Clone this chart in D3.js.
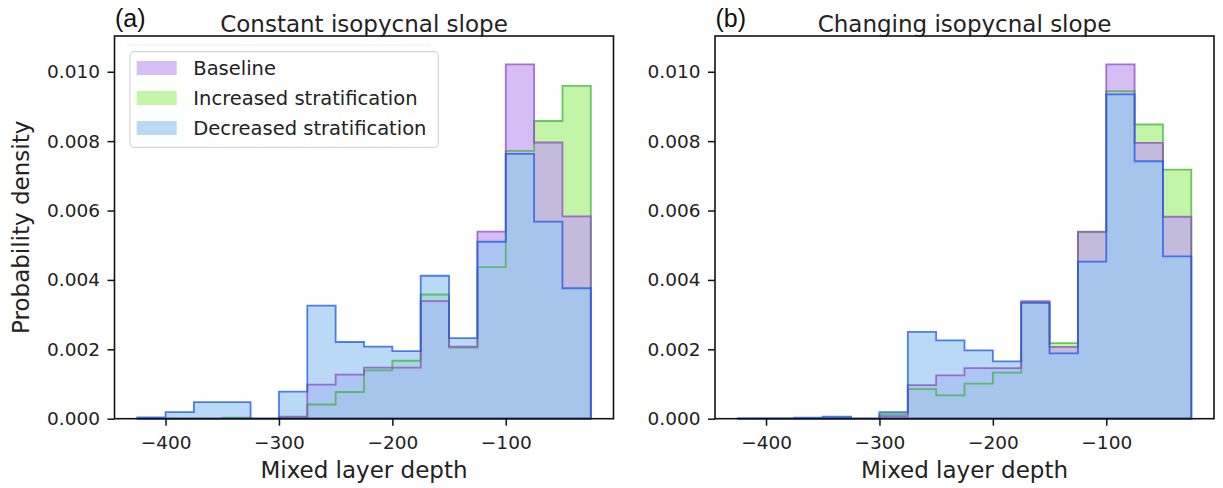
<!DOCTYPE html>
<html>
<head>
<meta charset="utf-8">
<script src="https://cdn.jsdelivr.net/npm/d3@7"></script>
<style>
  html, body { margin: 0; padding: 0; background: #fff; }
  svg { display: block; }
</style>
</head>
<body>
<svg id="chart" width="1223" height="488"></svg>
<script>
// ---------------- data ----------------
const binEdges = [-425, -400, -375, -350, -325, -300, -275, -250, -225, -200, -175, -150, -125, -100, -75, -50, -25];
const xTicks = [-400, -300, -200, -100];
const yTicks = [0, 0.002, 0.004, 0.006, 0.008, 0.010];
const seriesNames = ["Baseline", "Increased stratification", "Decreased stratification"];

// (a) Constant isopycnal slope
const baselineA  = [0, 0, 0, 0, 0, 0.00006, 0.00098, 0.00127, 0.00147, 0.00147, 0.00339, 0.00208, 0.00539, 0.01021, 0.00796, 0.00583];
const increasedA = [0, 0, 0, 0.00003, 0, 0.00003, 0.00041, 0.00077, 0.00139, 0.00167, 0.00358, 0.00205, 0.00437, 0.00772, 0.00858, 0.00959];
const decreasedA = [0.00004, 0.00019, 0.00048, 0.00048, 0, 0.00078, 0.00326, 0.00221, 0.00208, 0.00195, 0.00412, 0.00232, 0.00510, 0.00763, 0.00568, 0.00376];

// (b) Changing isopycnal slope
const baselineB  = [0, 0, 0, 0, 0, 0.00007, 0.00097, 0.00125, 0.00146, 0.00146, 0.00339, 0.00207, 0.00539, 0.01021, 0.00795, 0.00582];
const increasedB = [0, 0, 0, 0.00003, 0, 0.00013, 0.00085, 0.00067, 0.00101, 0.00133, 0.00335, 0.00218, 0.00538, 0.00944, 0.00848, 0.00718];
const decreasedB = [0.00001, 0.00001, 0.00003, 0.00006, 0, 0.00019, 0.00250, 0.00226, 0.00197, 0.00165, 0.00334, 0.00188, 0.00453, 0.00935, 0.00742, 0.00468];

const panelLabels = ["(a)", "(b)"];
const panelTitles = ["Constant isopycnal slope", "Changing isopycnal slope"];
const xLabel = "Mixed layer depth";
const yLabel = "Probability density";

// ---------------- styles ----------------
const fillColors = { "Baseline": "#c4a1f2", "Increased stratification": "#a9f183", "Decreased stratification": "#9bc9f4" };
const edgeColors = { "Baseline": "#8e4cbc", "Increased stratification": "#42b342", "Decreased stratification": "#1f56e6" };
const fillOpacity = 0.7;
const drawOrder = ["Increased stratification", "Baseline", "Decreased stratification"];
const FONT = "'DejaVu Sans', sans-serif";

const panels = [
  { left: 114.5, right: 613.5, data: { "Baseline": baselineA, "Increased stratification": increasedA, "Decreased stratification": decreasedA } },
  { left: 715, right: 1214, data: { "Baseline": baselineB, "Increased stratification": increasedB, "Decreased stratification": decreasedB } }
];
const plotTop = 36, plotBottom = 418.7;

const svg = d3.select("#chart");

panels.forEach((p, pi) => {
  const x = d3.scaleLinear().domain([-445, -5]).range([p.left, p.right]);
  const y = d3.scaleLinear().domain([0, 0.01103]).range([plotBottom, plotTop]);
  const g = svg.append("g");

  const line = d3.line().x(d => x(d[0])).y(d => y(d[1])).curve(d3.curveStepAfter);
  const stepPath = vals => {
    const pts = [[binEdges[0], 0]];
    vals.forEach((v, i) => pts.push([binEdges[i], v]));
    pts.push([binEdges[binEdges.length - 1], vals[vals.length - 1]]);
    pts.push([binEdges[binEdges.length - 1], 0]);
    return line(pts) + "Z";
  };

  drawOrder.forEach(name => {
    g.append("path")
      .attr("d", stepPath(p.data[name]))
      .attr("fill", fillColors[name])
      .attr("fill-opacity", fillOpacity)
      .attr("stroke", "none");
  });
  drawOrder.forEach(name => {
    g.append("path")
      .attr("d", stepPath(p.data[name]))
      .attr("fill", "none")
      .attr("stroke", edgeColors[name])
      .attr("stroke-opacity", 0.75)
      .attr("stroke-width", 1.8)
      .attr("stroke-linejoin", "miter");
  });

  // axes
  const xAxis = g.append("g").attr("transform", `translate(0,${plotBottom})`)
    .call(d3.axisBottom(x).tickValues(xTicks).tickSize(7).tickPadding(10)
      .tickFormat(d => (d < 0 ? "\u2212" : "") + Math.abs(d)));
  const yAxis = g.append("g").attr("transform", `translate(${p.left},0)`)
    .call(d3.axisLeft(y).tickValues(yTicks).tickSize(7).tickPadding(7.5).tickFormat(d3.format(".3f")));
  [xAxis, yAxis].forEach(a => {
    a.select(".domain").remove();
    a.selectAll(".tick line").attr("stroke", "#111").attr("stroke-width", 1.5);
    a.selectAll(".tick text").attr("fill", "#222").style("font-family", FONT).style("font-size", "18.5px");
  });

  // frame
  g.append("rect")
    .attr("x", p.left).attr("y", plotTop)
    .attr("width", p.right - p.left).attr("height", plotBottom - plotTop)
    .attr("fill", "none").attr("stroke", "#111").attr("stroke-width", 1.6);

  // title and panel label
  g.append("text")
    .attr("x", (p.left + p.right) / 2).attr("y", 31.5)
    .attr("text-anchor", "middle")
    .style("font-family", FONT).style("font-size", "23px").attr("fill", "#222")
    .text(panelTitles[pi]);
  g.append("text")
    .attr("x", p.left + 0.5).attr("y", 26.5)
    .style("font-family", "'Liberation Sans', Arial, sans-serif").style("font-size", "25px").attr("fill", "#111")
    .text(panelLabels[pi]);

  // x label
  g.append("text")
    .attr("x", (p.left + p.right) / 2).attr("y", 478)
    .attr("text-anchor", "middle")
    .style("font-family", FONT).style("font-size", "23px").attr("fill", "#222")
    .text(xLabel);

  if (pi === 0) {
    // y label
    g.append("text")
      .attr("transform", `translate(28.5,${(plotTop + plotBottom) / 2}) rotate(-90)`)
      .attr("text-anchor", "middle")
      .style("font-family", FONT).style("font-size", "23px").attr("fill", "#222")
      .text(yLabel);

    // legend
    const lg = g.append("g");
    lg.append("line").attr("x1", 127).attr("x2", 430).attr("y1", 45).attr("y2", 45)
      .attr("stroke", "#eeeeee").attr("stroke-width", 1);
    lg.append("rect")
      .attr("x", 130).attr("y", 51.7).attr("width", 308.3).attr("height", 95.6)
      .attr("rx", 4).attr("ry", 4)
      .attr("fill", "#fff").attr("fill-opacity", 0.8)
      .attr("stroke", "#d5d5d5").attr("stroke-width", 1.2);
    seriesNames.forEach((name, i) => {
      const ry = 61 + i * 30;
      lg.append("rect")
        .attr("x", 136.7).attr("y", ry).attr("width", 40).attr("height", 14)
        .attr("fill", fillColors[name]).attr("fill-opacity", fillOpacity);
      lg.append("text")
        .attr("x", 193.3).attr("y", ry + 14)
        .style("font-family", FONT).style("font-size", "19.5px").attr("fill", "#222")
        .text(name);
    });
  }
});
</script>
</body>
</html>
